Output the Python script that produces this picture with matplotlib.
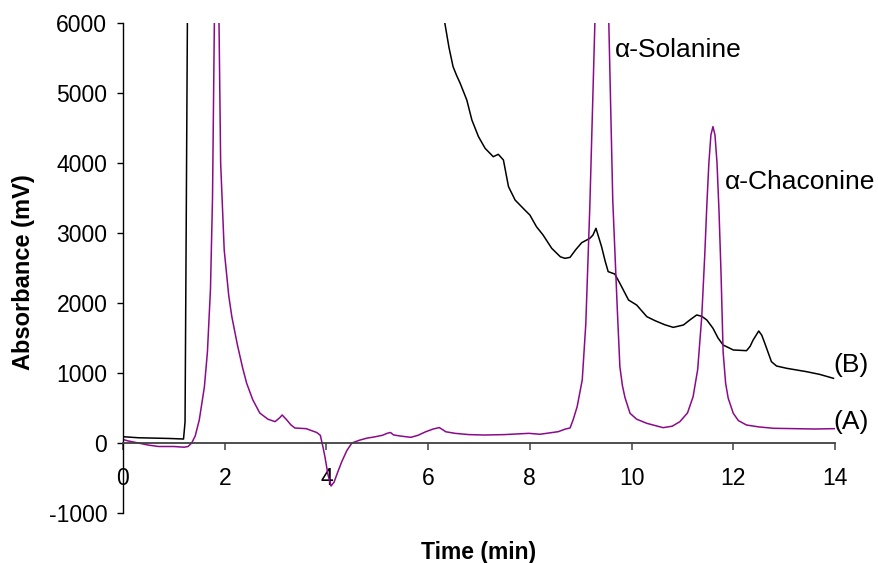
import numpy as np
import matplotlib
matplotlib.use('Agg')
import matplotlib.pyplot as plt

#chromatogram (A) - purple trace, time in min and absorbance in mV
timeA = [0.0, 0.1, 0.3, 0.5, 0.7, 1.0, 1.2, 1.28, 1.35, 1.42, 1.5, 1.6, 1.66, 1.72, 1.76,
         1.84, 1.92, 1.99, 2.08, 2.14, 2.25, 2.35, 2.43, 2.55, 2.69, 2.85, 2.99, 3.08,
         3.13, 3.22, 3.3, 3.38, 3.6, 3.81, 3.88, 3.93, 3.97, 4.03, 4.09, 4.15, 4.22,
         4.3, 4.4, 4.5, 4.65, 4.8, 4.93, 5.1, 5.2, 5.26, 5.32, 5.45, 5.66, 5.8, 5.95,
         6.1, 6.22, 6.35, 6.53, 6.8, 7.11, 7.5, 7.98, 8.2, 8.56, 8.7, 8.79, 8.85, 8.93,
         9.03, 9.1, 9.18, 9.43, 9.63, 9.72, 9.77, 9.82, 9.87, 9.97, 10.1, 10.3, 10.62,
         10.8, 10.95, 11.1, 11.21, 11.3, 11.38, 11.44, 11.48, 11.52, 11.56, 11.6, 11.64,
         11.68, 11.72, 11.76, 11.8, 11.85, 11.9, 12.0, 12.1, 12.26, 12.5, 12.79, 13.2,
         13.6, 14.0]
absA = [50, 30, 0, -30, -50, -50, -60, -50, 0, 100, 330, 800, 1300, 2200, 3500,
        9000, 4000, 2757, 2100, 1805, 1400, 1080, 857, 620, 428, 340, 305, 360,
        400, 330, 260, 214, 205, 150, 110, -50, -195, -450, -614, -560, -420,
        -270, -110, 0, 40, 70, 85, 110, 140, 150, 115, 100, 81, 110, 160,
        200, 220, 160, 138, 120, 114, 120, 138, 125, 162, 200, 214, 329, 519,
        900, 1700, 3400, 10000, 3471, 1900, 1090, 820, 650, 424, 340, 281, 219,
        240, 305, 430, 662, 1050, 1805, 2700, 3400, 4000, 4400, 4520, 4400,
        4000, 3300, 2400, 1300, 850, 640, 424, 320, 257, 230, 210, 205,
        200, 205]

#chromatogram (B) - black trace
timeB = [0.0, 0.3, 0.6, 0.9, 1.19, 1.22, 1.24, 1.27, 1.3, 3.0, 6.0, 6.2, 6.33, 6.41,
         6.49, 6.56, 6.63, 6.76, 6.86, 6.99, 7.12, 7.28, 7.38, 7.48, 7.58, 7.71, 7.9,
         8.0, 8.13, 8.26, 8.43, 8.6, 8.69, 8.79, 8.9, 9.02, 9.18, 9.24, 9.3, 9.41,
         9.48, 9.54, 9.67, 9.77, 9.94, 10.1, 10.3, 10.46, 10.65, 10.82, 11.02, 11.15,
         11.28, 11.38, 11.48, 11.6, 11.7, 11.8, 12.0, 12.26, 12.33, 12.39, 12.5, 12.56,
         12.62, 12.75, 12.85, 13.05, 13.44, 13.7, 13.97]
absB = [90, 75, 70, 65, 57, 300, 2750, 6500, 8000, 9000, 7500, 6500, 5990, 5650,
        5376, 5250, 5138, 4900, 4614, 4376, 4210, 4090, 4124, 4043, 3662, 3471, 3329,
        3257, 3090, 2971, 2781, 2660, 2638, 2652, 2760, 2862, 2924, 2970, 3067, 2805,
        2600, 2448, 2414, 2281, 2043, 1971, 1805, 1748, 1690, 1652, 1686, 1760,
        1829, 1810, 1757, 1640, 1500, 1400, 1329, 1319, 1380, 1471, 1600, 1540,
        1424, 1162, 1100, 1067, 1019, 980, 924]

#peak labels
peakNames = ['\u03b1-Solanine', '\u03b1-Chaconine']
peakTimes = [9.67, 11.84]
peakLevels = [5614, 3733]

#trace labels
traceNames = ['(B)', '(A)']
traceLevels = [1114, 300]

if __name__ == "__main__":
    plt.rcParams['font.family'] = ['Liberation Sans', 'DejaVu Sans']
    plt.rcParams['axes.unicode_minus'] = False

    fig = plt.figure(figsize=(8.79, 5.63), dpi=100)
    ax = fig.add_axes([123/879, 1-513/563, 712/879, 490/563])

    ax.plot(timeB, absB, color='black', lw=1.1)
    ax.plot(timeA, absA, color='#8a0a8a', lw=1.1)

    for name, t, lvl in zip(peakNames, peakTimes, peakLevels):
        ax.text(t, lvl, name, fontsize=19, ha='left', va='center')
    for name, lvl in zip(traceNames, traceLevels):
        ax.text(13.96, lvl, name, fontsize=19, ha='left', va='center')

    ax.set_xlim(0, 14)
    ax.set_ylim(-1000, 6000)
    ax.set_xticks(np.arange(0, 15, 2))
    ax.set_yticks(np.arange(-1000, 7000, 1000))

    #axis styling - x axis sits at zero
    ax.spines['top'].set_visible(False)
    ax.spines['right'].set_visible(False)
    ax.spines['bottom'].set_position(('data', 0))
    ax.spines['bottom'].set_color('#404040')
    ax.spines['bottom'].set_linewidth(1.3)
    ax.spines['left'].set_linewidth(1.0)
    ax.tick_params(axis='x', direction='out', length=5, width=1.1, color='#404040',
                   labelsize=16.5, pad=12)
    ax.tick_params(axis='y', direction='out', length=4.3, width=1.0,
                   labelsize=16.5, pad=7)

    ax.set_xlabel('Time (min)', fontsize=16.5, fontweight='bold')
    ax.xaxis.set_label_coords(0.5, -0.058)
    ax.set_ylabel('Absorbance (mV)', fontsize=17, fontweight='bold')
    ax.yaxis.set_label_coords(-0.124, 0.492)

    plt.savefig('out.png', dpi=100)
